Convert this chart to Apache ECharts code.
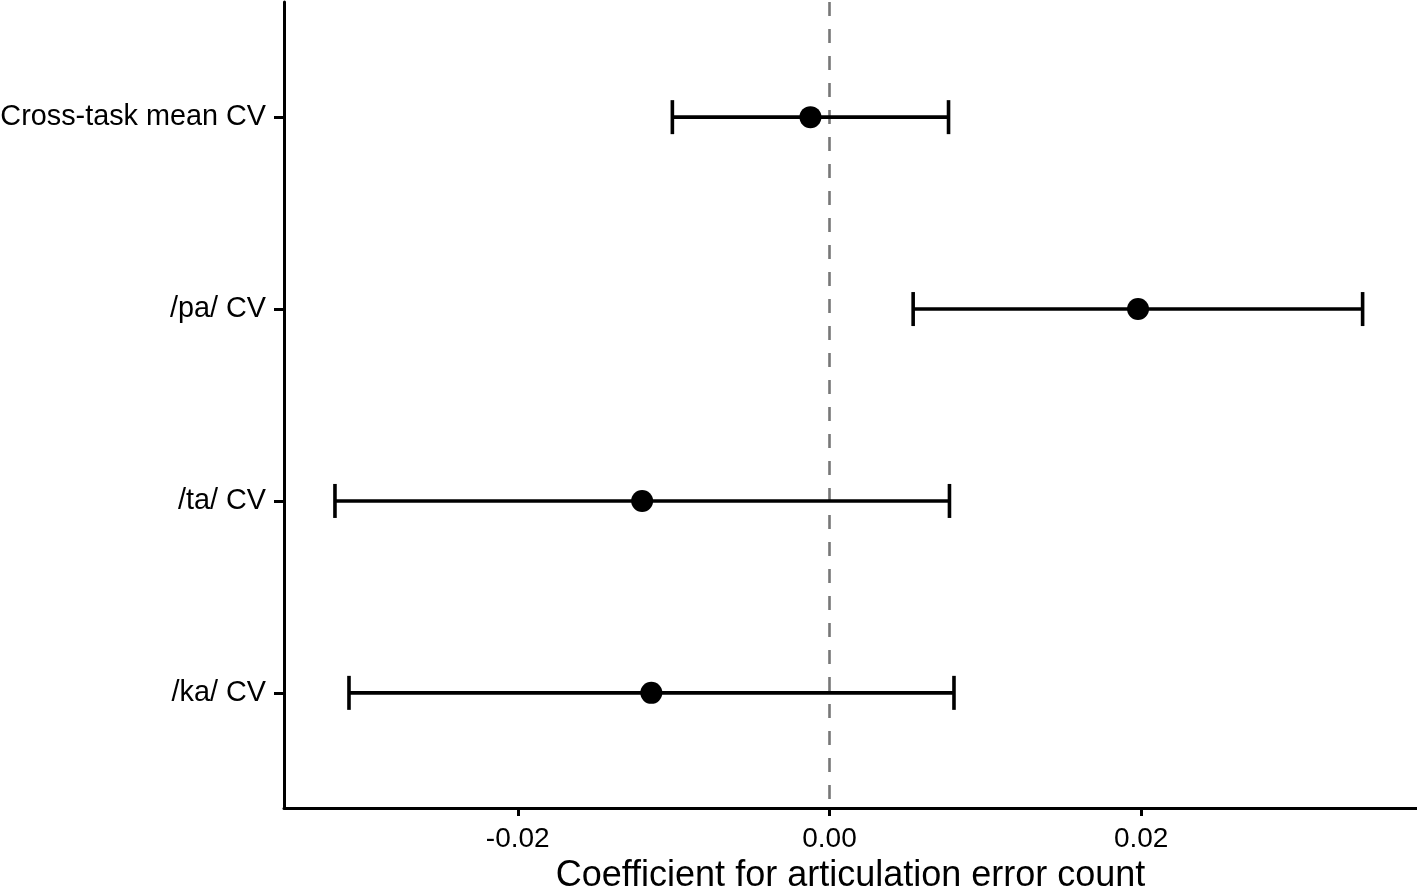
<!DOCTYPE html>
<html>
<head>
<meta charset="utf-8">
<script src="https://cdn.jsdelivr.net/npm/echarts@6/dist/echarts.min.js"></script>
<style>
  html, body { margin: 0; padding: 0; background: #fff; }
  #chart { width: 1417px; height: 888px; }
</style>
</head>
<body>
<div id="chart"></div>
<script>
// top to bottom
const categories = ['Cross-task mean CV', '/pa/ CV', '/ta/ CV', '/ka/ CV'];
const estimates = [-0.00122, 0.0198, -0.01202, -0.01143];
const lower = [-0.01008, 0.00537, -0.03173, -0.03083];
const upper = [0.00764, 0.03421, 0.0077, 0.00799];
const xTicks = [-0.02, 0, 0.02];

const font = '"Liberation Sans", Helvetica, Arial, sans-serif';

const pointData = categories.map((c, i) => [estimates[i], i + 1]);
const barData = categories.map((c, i) => [lower[i], upper[i], i + 1]);

let myChart = echarts.init(document.getElementById('chart'));
let option = {
  animation: false,
  grid: { left: 284, right: 0, top: 2, bottom: 80, outerBoundsMode: 'none', containLabel: false },
  xAxis: {
    type: 'value',
    min: -0.035,
    max: 0.0377,
    name: 'Coefficient for articulation error count',
    nameLocation: 'middle',
    nameGap: 49,
    nameTextStyle: { fontFamily: font, fontSize: 36, color: '#000' },
    axisLine: { show: true, onZero: false, lineStyle: { color: '#000', width: 3 } },
    axisTick: { show: true, customValues: xTicks, length: 8, lineStyle: { color: '#000', width: 3 } },
    axisLabel: {
      customValues: xTicks,
      margin: 17,
      fontFamily: font, fontSize: 28, color: '#000',
      formatter: v => v.toFixed(2)
    },
    splitLine: { show: false }
  },
  yAxis: {
    type: 'value',
    inverse: true,
    min: 0.4,
    max: 4.6,
    axisLine: { show: true, onZero: false, lineStyle: { color: '#000', width: 3 } },
    axisTick: { show: true, customValues: [1, 2, 3, 4], length: 10, lineStyle: { color: '#000', width: 3 } },
    axisLabel: {
      customValues: [1, 2, 3, 4],
      margin: 18,
      fontFamily: font, fontSize: 28.8, color: '#000',
      formatter: v => categories[Math.round(v) - 1]
    },
    splitLine: { show: false }
  },
  series: [
    {
      type: 'custom',
      data: barData,
      encode: { x: [0, 1], y: 2 },
      renderItem: function (params, api) {
        const lo = api.coord([api.value(0), api.value(2)]);
        const hi = api.coord([api.value(1), api.value(2)]);
        const h = 17;
        const style = { stroke: '#000', lineWidth: 3.6 };
        return {
          type: 'group',
          children: [
            { type: 'line', shape: { x1: lo[0], y1: lo[1], x2: hi[0], y2: hi[1] }, style: style },
            { type: 'line', shape: { x1: lo[0], y1: lo[1] - h, x2: lo[0], y2: lo[1] + h }, style: style },
            { type: 'line', shape: { x1: hi[0], y1: hi[1] - h, x2: hi[0], y2: hi[1] + h }, style: style }
          ]
        };
      },
      z: 2
    },
    {
      type: 'scatter',
      data: pointData,
      symbol: 'circle',
      symbolSize: 22,
      itemStyle: { color: '#000', opacity: 1 },
      z: 4,
      markLine: {
        silent: true,
        symbol: ['none', 'none'],
        label: { show: false },
        lineStyle: { color: '#777', width: 2.6, type: [14, 13] },
        data: [{ xAxis: 0 }],
        z: 1
      }
    }
  ]
};
myChart.setOption(option);
</script>
</body>
</html>
